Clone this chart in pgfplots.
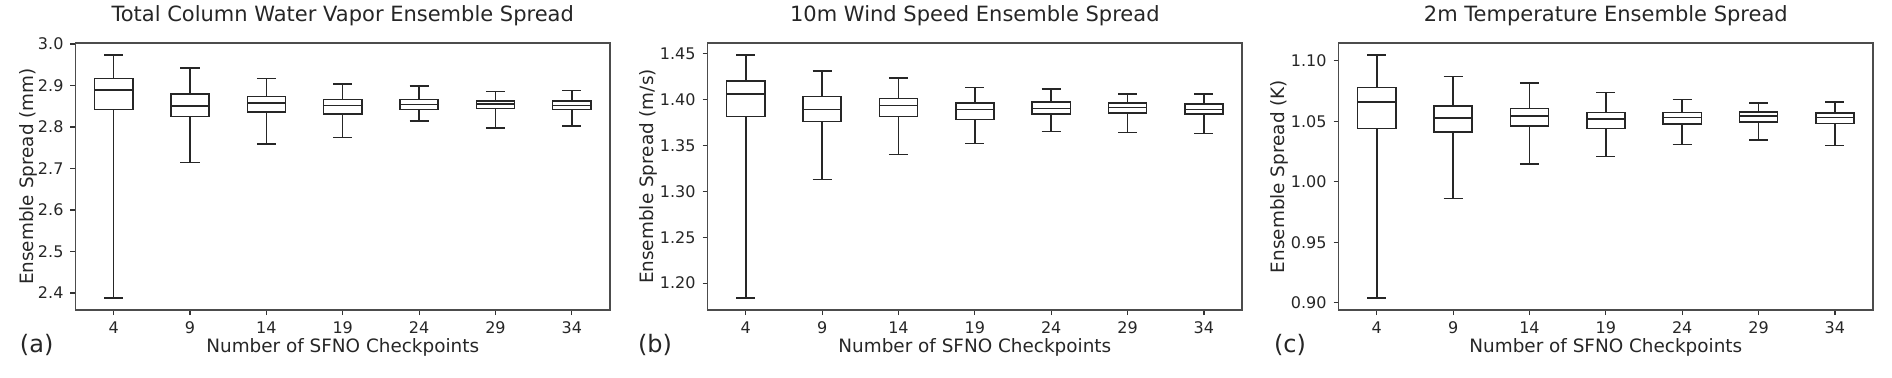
\documentclass[border=0pt]{standalone}
\usepackage{fontspec}
\setmainfont{DejaVu Sans}
\usepackage{pgfplots}
\pgfplotsset{compat=1.18}
\usepgfplotslibrary{statistics}

\pgfplotsset{
  panel/.style={
    scale only axis,
    width=267.25pt, height=133.5pt,
    anchor=south west,
    xmin=0.5, xmax=7.5,
    xtick={1,...,7},
    xticklabels={4,9,14,19,24,29,34},
    xtick pos=bottom, ytick pos=left,
    tick align=outside,
    major tick length=2.5pt,
    tick style={black!80, line width=0.6pt},
    axis line style={black!70, line width=0.75pt},
    ticklabel style={font=\fontsize{8}{9.6}\selectfont, text=black!85},
    label style={font=\fontsize{9.2}{11}\selectfont, text=black!85},
    title style={font=\fontsize{10.5}{12.6}\selectfont, text=black!85,
                 at={(axis description cs:0.5,1.056)}, anchor=center},
    xlabel style={at={(axis description cs:0.5,-0.1386)}, anchor=center},
    xlabel={Number of SFNO Checkpoints},
    /pgf/number format/assume math mode=true,
    boxplot/draw direction=y,
    boxplot/box extend=0.5,
    boxplot/whisker extend=0.25,
  },
  bx/.style={draw=black!85, line width=0.75pt, solid, mark=none, fill=none},
}

\begin{document}
\begin{tikzpicture}
\path[use as bounding box] (0,0) rectangle (946pt,188.5pt);

% (a) total column water vapour
\begin{axis}[panel, at={(37.75pt,33.5pt)},
  ymin=2.3588, ymax=3.0023,
  ytick={2.4,2.5,...,3.0},
  yticklabel style={/pgf/number format/.cd, fixed, fixed zerofill, precision=1},
  ylabel={Ensemble Spread (mm)},
  ylabel style={at={(axis description cs:-0.0879,0.5)}, anchor=center},
  title={Total Column Water Vapor Ensemble Spread}]
\addplot[bx, boxplot prepared={draw position=1, lower whisker=2.388, lower quartile=2.842, median=2.889, upper quartile=2.917, upper whisker=2.973}] coordinates {};
\addplot[bx, boxplot prepared={draw position=2, lower whisker=2.714, lower quartile=2.825, median=2.851, upper quartile=2.880, upper whisker=2.942}] coordinates {};
\addplot[bx, boxplot prepared={draw position=3, lower whisker=2.759, lower quartile=2.836, median=2.858, upper quartile=2.873, upper whisker=2.917}] coordinates {};
\addplot[bx, boxplot prepared={draw position=4, lower whisker=2.774, lower quartile=2.831, median=2.852, upper quartile=2.866, upper whisker=2.904}] coordinates {};
\addplot[bx, boxplot prepared={draw position=5, lower whisker=2.814, lower quartile=2.842, median=2.854, upper quartile=2.866, upper whisker=2.899}] coordinates {};
\addplot[bx, boxplot prepared={draw position=6, lower whisker=2.798, lower quartile=2.844, median=2.855, upper quartile=2.863, upper whisker=2.885}] coordinates {};
\addplot[bx, boxplot prepared={draw position=7, lower whisker=2.802, lower quartile=2.842, median=2.852, upper quartile=2.863, upper whisker=2.888}] coordinates {};
\end{axis}

% (b) 10m wind speed
\begin{axis}[panel, at={(353.8pt,33.5pt)},
  ymin=1.1708, ymax=1.4612,
  ytick={1.20,1.25,...,1.45},
  yticklabel style={/pgf/number format/.cd, fixed, fixed zerofill, precision=2},
  ylabel={Ensemble Spread (m/s)},
  ylabel style={at={(axis description cs:-0.1115,0.5)}, anchor=center},
  title={10m Wind Speed Ensemble Spread}]
\addplot[bx, boxplot prepared={draw position=1, lower whisker=1.184, lower quartile=1.381, median=1.406, upper quartile=1.420, upper whisker=1.448}] coordinates {};
\addplot[bx, boxplot prepared={draw position=2, lower whisker=1.313, lower quartile=1.376, median=1.389, upper quartile=1.403, upper whisker=1.431}] coordinates {};
\addplot[bx, boxplot prepared={draw position=3, lower whisker=1.340, lower quartile=1.381, median=1.393, upper quartile=1.401, upper whisker=1.423}] coordinates {};
\addplot[bx, boxplot prepared={draw position=4, lower whisker=1.352, lower quartile=1.378, median=1.389, upper quartile=1.396, upper whisker=1.413}] coordinates {};
\addplot[bx, boxplot prepared={draw position=5, lower whisker=1.365, lower quartile=1.384, median=1.390, upper quartile=1.397, upper whisker=1.411}] coordinates {};
\addplot[bx, boxplot prepared={draw position=6, lower whisker=1.364, lower quartile=1.385, median=1.391, upper quartile=1.396, upper whisker=1.406}] coordinates {};
\addplot[bx, boxplot prepared={draw position=7, lower whisker=1.363, lower quartile=1.384, median=1.389, upper quartile=1.395, upper whisker=1.406}] coordinates {};
\end{axis}

% (c) 2m temperature
\begin{axis}[panel, at={(669.3pt,33.5pt)},
  ymin=0.894, ymax=1.1147,
  ytick={0.90,0.95,...,1.10},
  yticklabel style={/pgf/number format/.cd, fixed, fixed zerofill, precision=2},
  ylabel={Ensemble Spread (K)},
  ylabel style={at={(axis description cs:-0.1115,0.5)}, anchor=center},
  title={2m Temperature Ensemble Spread}]
\addplot[bx, boxplot prepared={draw position=1, lower whisker=0.904, lower quartile=1.044, median=1.066, upper quartile=1.078, upper whisker=1.1047}] coordinates {};
\addplot[bx, boxplot prepared={draw position=2, lower whisker=0.986, lower quartile=1.0413, median=1.0526, upper quartile=1.0625, upper whisker=1.087}] coordinates {};
\addplot[bx, boxplot prepared={draw position=3, lower whisker=1.0146, lower quartile=1.0463, median=1.0545, upper quartile=1.0606, upper whisker=1.0815}] coordinates {};
\addplot[bx, boxplot prepared={draw position=4, lower whisker=1.0209, lower quartile=1.0441, median=1.0518, upper quartile=1.0573, upper whisker=1.0738}] coordinates {};
\addplot[bx, boxplot prepared={draw position=5, lower whisker=1.0309, lower quartile=1.0479, median=1.0532, upper quartile=1.0573, upper whisker=1.0678}] coordinates {};
\addplot[bx, boxplot prepared={draw position=6, lower whisker=1.0347, lower quartile=1.0493, median=1.0543, upper quartile=1.0576, upper whisker=1.0653}] coordinates {};
\addplot[bx, boxplot prepared={draw position=7, lower whisker=1.030, lower quartile=1.0482, median=1.0532, upper quartile=1.0567, upper whisker=1.0658}] coordinates {};
\end{axis}

\node[font=\fontsize{12}{14.4}\selectfont, text=black!85] at (18.35pt,16pt) {(a)};
\node[font=\fontsize{12}{14.4}\selectfont, text=black!85] at (327.5pt,16pt) {(b)};
\node[font=\fontsize{12}{14.4}\selectfont, text=black!85] at (645pt,16pt) {(c)};
\end{tikzpicture}
\end{document}
